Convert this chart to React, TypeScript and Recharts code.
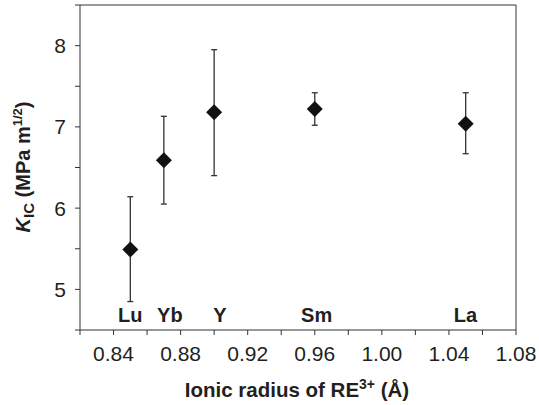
import React from 'react';
import {
  ScatterChart,
  Scatter,
  XAxis,
  YAxis,
  ErrorBar,
  ReferenceLine,
} from 'recharts';

/* ── Data ─────────────────────────────────────────────────────── */
const elements = ['Lu', 'Yb', 'Y', 'Sm', 'La'];
const ionicRadius = [0.85, 0.87, 0.9, 0.96, 1.05];
const kic = [5.49, 6.59, 7.18, 7.22, 7.04];
const kicHigh = [6.14, 7.13, 7.95, 7.42, 7.42];
const kicLow = [4.85, 6.05, 6.4, 7.02, 6.67];
// where each element name sits along the x axis
const labelRadius = [0.85, 0.8736, 0.9034, 0.9611, 1.0498];
const labelLevel = 4.595;

const xTicks = [0.82, 0.84, 0.86, 0.88, 0.9, 0.92, 0.94, 0.96, 0.98, 1.0, 1.02, 1.04, 1.06, 1.08];
const yTicks = [4.5, 5, 5.5, 6, 6.5, 7, 7.5, 8, 8.5];

const points = ionicRadius.map((x, i) => ({
  x,
  y: kic[i],
  err: [kic[i] - kicLow[i], kicHigh[i] - kic[i]],
}));
const labelPts = labelRadius.map((x, i) => ({ x, y: labelLevel, name: elements[i] }));

/* ── Styles ───────────────────────────────────────────────────── */
const FONT = "'Liberation Sans', Arial, sans-serif";
const INK = '#231f20';
const AXIS = '#333';

const Diamond = (props: any) => {
  const { cx, cy } = props;
  if (cx == null || cy == null) return null;
  const r = 8;
  return (
    <polygon
      points={`${cx},${cy - r} ${cx + r},${cy} ${cx},${cy + r} ${cx - r},${cy}`}
      fill="#111"
    />
  );
};

const ElementLabel = (props: any) => {
  const { cx, cy, payload } = props;
  if (cx == null || cy == null) return null;
  return (
    <text
      x={cx}
      y={cy}
      textAnchor="middle"
      fontFamily={FONT}
      fontWeight="bold"
      fontSize={20}
      fill={INK}
    >
      {payload.name}
    </text>
  );
};

const fmtX = (v: number) => (Math.round(v * 100) % 4 === 0 ? v.toFixed(2) : '');
const fmtY = (v: number) => (Number.isInteger(v) ? String(v) : '');

const YTitle = () => (
  <text
    transform="translate(30,167) rotate(-90)"
    textAnchor="middle"
    fontFamily={FONT}
    fontWeight="bold"
    fontSize={20}
    fill={INK}
  >
    <tspan fontStyle="italic">K</tspan>
    <tspan fontSize={15} dy={4}>IC</tspan>
    <tspan dy={-4}> (MPa m</tspan>
    <tspan fontSize={13} dy={-8}>1/2</tspan>
    <tspan dy={8}>)</tspan>
  </text>
);

const XTitle = () => (
  <text
    x={297}
    y={397}
    textAnchor="middle"
    fontFamily={FONT}
    fontWeight="bold"
    fontSize={20.5}
    fill={INK}
  >
    <tspan>Ionic radius of RE</tspan>
    <tspan fontSize={14} dy={-8}>3+</tspan>
    <tspan dy={8}> (Å)</tspan>
  </text>
);

export default function App() {
  return (
    <>
      <style>{'body{margin:0;background:#fff;}'}</style>
      <ScatterChart
        width={539}
        height={405}
        margin={{ top: 5, right: 23, left: 0, bottom: 0 }}
      >
        <XAxis
          type="number"
          dataKey="x"
          domain={[0.82, 1.08]}
          ticks={xTicks}
          tickFormatter={fmtX}
          allowDataOverflow
          height={75}
          tickSize={5}
          tickMargin={11}
          stroke={AXIS}
          tick={{ fontFamily: FONT, fontSize: 21, fill: INK }}
          label={XTitle}
        />
        <YAxis
          type="number"
          dataKey="y"
          domain={[4.5, 8.5]}
          ticks={yTicks}
          tickFormatter={fmtY}
          allowDataOverflow
          width={80}
          tickSize={5}
          tickMargin={9}
          stroke={AXIS}
          tick={{ fontFamily: FONT, fontSize: 21, fill: INK }}
          label={YTitle}
        />
        <ReferenceLine y={8.5} stroke={AXIS} />
        <ReferenceLine x={1.08} stroke={AXIS} />
        <Scatter data={points} shape={<Diamond />} isAnimationActive={false}>
          <ErrorBar
            dataKey="err"
            direction="y"
            width={3}
            stroke="#333"
            strokeWidth={1.3}
            isAnimationActive={false}
          />
        </Scatter>
        <Scatter data={labelPts} shape={<ElementLabel />} isAnimationActive={false} />
      </ScatterChart>
    </>
  );
}
